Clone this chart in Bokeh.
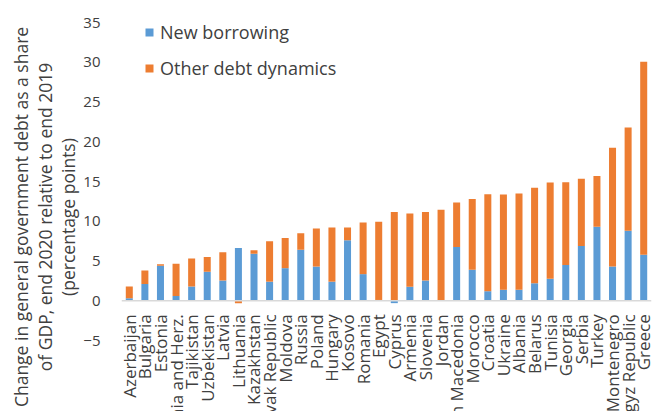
from bokeh.plotting import figure
from bokeh.models import (ColumnDataSource, FactorRange, Range1d, Span,
                          LabelSet, Legend, LegendItem, FixedTicker)
from bokeh.core.properties import value
from bokeh.embed import file_html
from bokeh.resources import INLINE

# ---------------- data ----------------
countries = ["Azerbaijan", "Bulgaria", "Estonia", "Bosnia and Herz.", "Tajikistan",
             "Uzbekistan", "Latvia", "Lithuania", "Kazakhstan", "Slovak Republic",
             "Moldova", "Russia", "Poland", "Hungary", "Kosovo", "Romania", "Egypt",
             "Cyprus", "Armenia", "Slovenia", "Jordan", "North Macedonia", "Morocco",
             "Croatia", "Ukraine", "Albania", "Belarus", "Tunisia", "Georgia", "Serbia",
             "Turkey", "Montenegro", "Kyrgyz Republic", "Greece"]

new_borrowing = [0.3, 2.1, 4.4, 0.6, 1.8, 3.65, 2.55, 6.65, 5.9, 2.4,
                 4.1, 6.4, 4.3, 2.4, 7.6, 3.35, 0.1, -0.3, 1.76, 2.55,
                 0.0, 6.75, 3.9, 1.2, 1.38, 1.38, 2.2, 2.77, 4.5, 6.9,
                 9.3, 4.3, 8.8, 5.8]

other_debt_dynamics = [1.5, 1.7, 0.2, 4.05, 3.5, 1.85, 3.55, -0.3, 0.45, 5.1,
                       3.8, 2.1, 4.8, 6.8, 1.6, 6.5, 9.85, 11.15, 9.2, 8.6,
                       11.45, 5.6, 8.9, 12.2, 12.0, 12.1, 12.0, 12.1, 10.4, 8.45,
                       6.4, 14.95, 13.0, 24.25]

y_ticks = [-5, 0, 5, 10, 15, 20, 25, 30, 35]
series_names = ["New borrowing", "Other debt dynamics"]
y_title = ("Change in general government debt as a share\n"
           "of GDP, end 2020 relative to end 2019\n"
           "(percentage points)")

# ---------------- style ----------------
BLUE = "#5B9BD5"
ORANGE = "#ED7D31"
FONT = "Open Sans"
TEXT = "#404040"

# Excel-like stacking: positives stack above zero, negatives below zero
b_bottom, b_top, o_bottom, o_top = [], [], [], []
for nb, od in zip(new_borrowing, other_debt_dynamics):
    pos, neg = 0.0, 0.0
    if nb >= 0:
        b_bottom.append(pos); pos += nb; b_top.append(pos)
    else:
        b_bottom.append(neg); neg += nb; b_top.append(neg)
    if od >= 0:
        o_bottom.append(pos); pos += od; o_top.append(pos)
    else:
        o_bottom.append(neg); neg += od; o_top.append(neg)

source = ColumnDataSource(dict(country=countries, b_bottom=b_bottom, b_top=b_top,
                               o_bottom=o_bottom, o_top=o_top))

# plot area runs down to the bottom edge (category labels live inside it)
p = figure(x_range=FactorRange(*countries), y_range=Range1d(-13.93, 35),
           width=652, height=411, output_backend="svg", toolbar_location=None,
           x_axis_location=None,
           min_border_left=121, min_border_right=1, min_border_top=22,
           min_border_bottom=0)
p.outline_line_color = None
p.grid.visible = False
p.background_fill_color = "white"
p.border_fill_color = "white"

p.add_layout(Span(location=0, dimension="width", line_color="#d9d9d9", line_width=1.5))

r1 = p.vbar(x="country", bottom="b_bottom", top="b_top", width=0.45,
            fill_color=BLUE, line_color=None, source=source)
r2 = p.vbar(x="country", bottom="o_bottom", top="o_top", width=0.45,
            fill_color=ORANGE, line_color=None, source=source)

# y axis
yax = p.yaxis[0]
yax.ticker = FixedTicker(ticks=y_ticks)
yax.axis_line_color = None
yax.major_tick_line_color = None
yax.minor_tick_line_color = None
yax.major_tick_out = 0
yax.major_tick_in = 0
yax.major_label_standoff = 21
yax.major_label_text_font = FONT
yax.major_label_text_font_size = "15px"
yax.major_label_text_color = TEXT
yax.axis_label = y_title
yax.axis_label_text_font = FONT
yax.axis_label_text_font_size = "17.5px"
yax.axis_label_text_font_style = "normal"
yax.axis_label_text_color = TEXT
yax.axis_label_text_line_height = 0.99
yax.axis_label_standoff = 0

# category labels below the zero line
lab_src = ColumnDataSource(dict(country=countries, y=[-1.7] * len(countries)))
p.add_layout(LabelSet(x="country", y="y", text="country", source=lab_src,
                      angle=90, angle_units="deg", text_align="right",
                      text_baseline="middle", text_font=value(FONT),
                      text_font_size="17px", text_color=TEXT))

legend = Legend(items=[LegendItem(label=series_names[0], renderers=[r1]),
                       LegendItem(label=series_names[1], renderers=[r2])],
                location=(23, 331), margin=0, padding=0, spacing=12,
                glyph_width=10, glyph_height=10, label_height=20,
                label_standoff=6, label_text_font=FONT,
                label_text_font_size="18px", label_text_color=TEXT,
                border_line_color=None, background_fill_alpha=0)
p.add_layout(legend)

open("out.html", "w").write(file_html(p, INLINE))
